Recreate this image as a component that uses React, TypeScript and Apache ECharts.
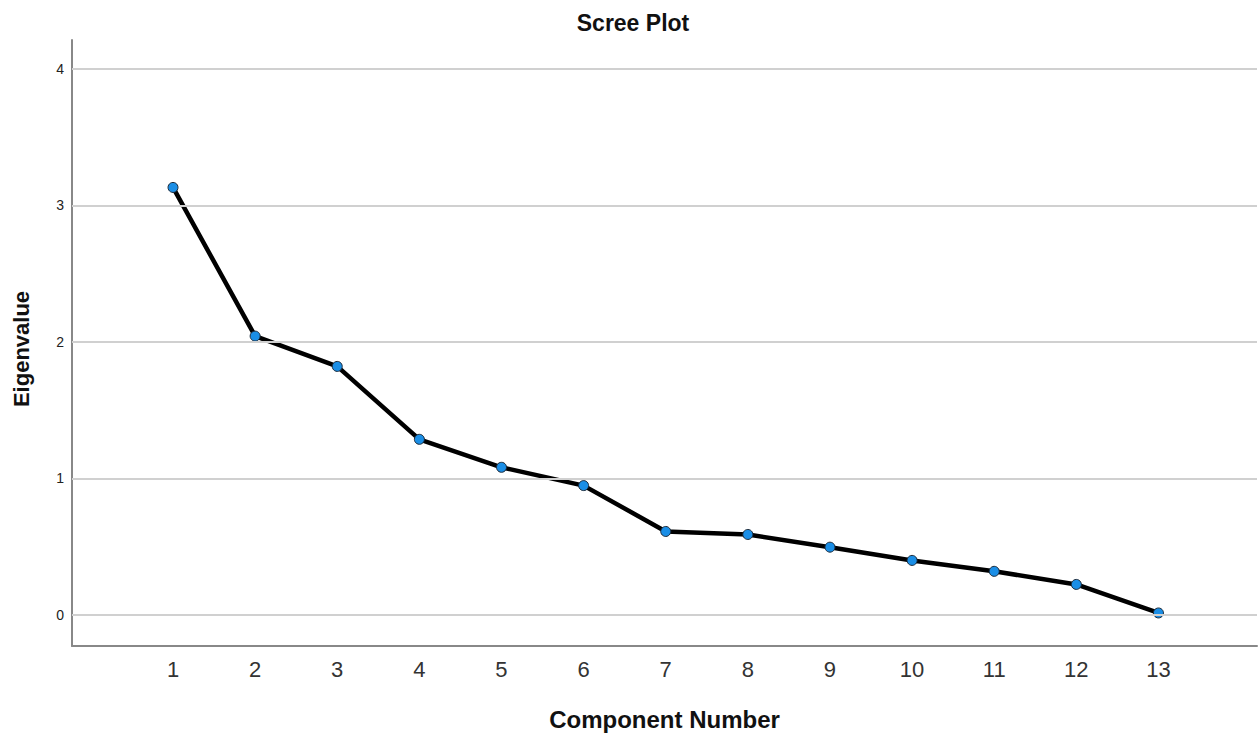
import React, { useEffect, useRef } from "react";
import * as echarts from "echarts";

const components = [1, 2, 3, 4, 5, 6, 7, 8, 9, 10, 11, 12, 13];
const eigenvalues = [3.132, 2.043, 1.821, 1.287, 1.082, 0.948, 0.612, 0.59, 0.497, 0.4, 0.32, 0.224, 0.015];
const yTicks = [0, 1, 2, 3, 4];

export default function App() {
  const ref = useRef<HTMLDivElement>(null);
  useEffect(() => {
    document.body.style.margin = "0";
    const chart = echarts.init(ref.current!, undefined, { renderer: "svg" });
    const font = "'Liberation Sans', Arial, sans-serif";
    chart.setOption({
      animation: false,
      backgroundColor: "#ffffff",
      title: {
        text: "Scree Plot",
        left: 628,
        top: 6,
        textAlign: "center",
        textStyle: { fontFamily: font, fontSize: 23, fontWeight: "bold", color: "#111" },
      },
      grid: { left: 72, right: 1, top: 40, bottom: 89, containLabel: false },
      xAxis: {
        type: "value",
        min: -0.23,
        max: 14.2,
        name: "Component Number",
        nameLocation: "middle",
        nameGap: 61,
        nameTextStyle: { fontFamily: font, fontSize: 24, fontWeight: "bold", color: "#111" },
        axisLine: { show: true, onZero: false, lineStyle: { color: "#888", width: 2 } },
        axisTick: { show: false },
        splitLine: { show: false },
        axisLabel: {
          customValues: components,
          fontFamily: font,
          fontSize: 22,
          color: "#333",
          margin: 12,
        },
      },
      yAxis: {
        type: "value",
        min: -0.227,
        max: 4.212,
        name: "Eigenvalue",
        nameLocation: "middle",
        nameGap: 40,
        nameRotate: 90,
        nameTextStyle: {
          fontFamily: font,
          fontSize: 22,
          fontWeight: "bold",
          color: "#111",
          padding: [0, 12, 0, 0],
        },
        axisLine: { show: true, onZero: false, lineStyle: { color: "#888", width: 2 } },
        axisTick: { show: false },
        splitLine: { show: false },
        axisLabel: {
          customValues: yTicks,
          fontFamily: font,
          fontSize: 14,
          color: "#222",
          margin: 8,
        },
      },
      series: [
        {
          type: "line",
          data: [],
          z: 1,
          silent: true,
          markLine: {
            silent: true,
            symbol: "none",
            label: { show: false },
            lineStyle: { color: "#d0d0d0", width: 2, type: "solid" },
            data: yTicks.map((v) => ({ yAxis: v })),
          },
        },
        {
          type: "line",
          z: 3,
          data: components.map((c, i) => [c, eigenvalues[i]]),
          lineStyle: { color: "#000", width: 4.5 },
          symbol: "circle",
          symbolSize: 10,
          itemStyle: { color: "#1a8ee6", borderColor: "#1b2a3a", borderWidth: 1 },
        },
      ],
    });
    return () => chart.dispose();
  }, []);
  return <div ref={ref} style={{ width: 1258, height: 736 }} />;
}
